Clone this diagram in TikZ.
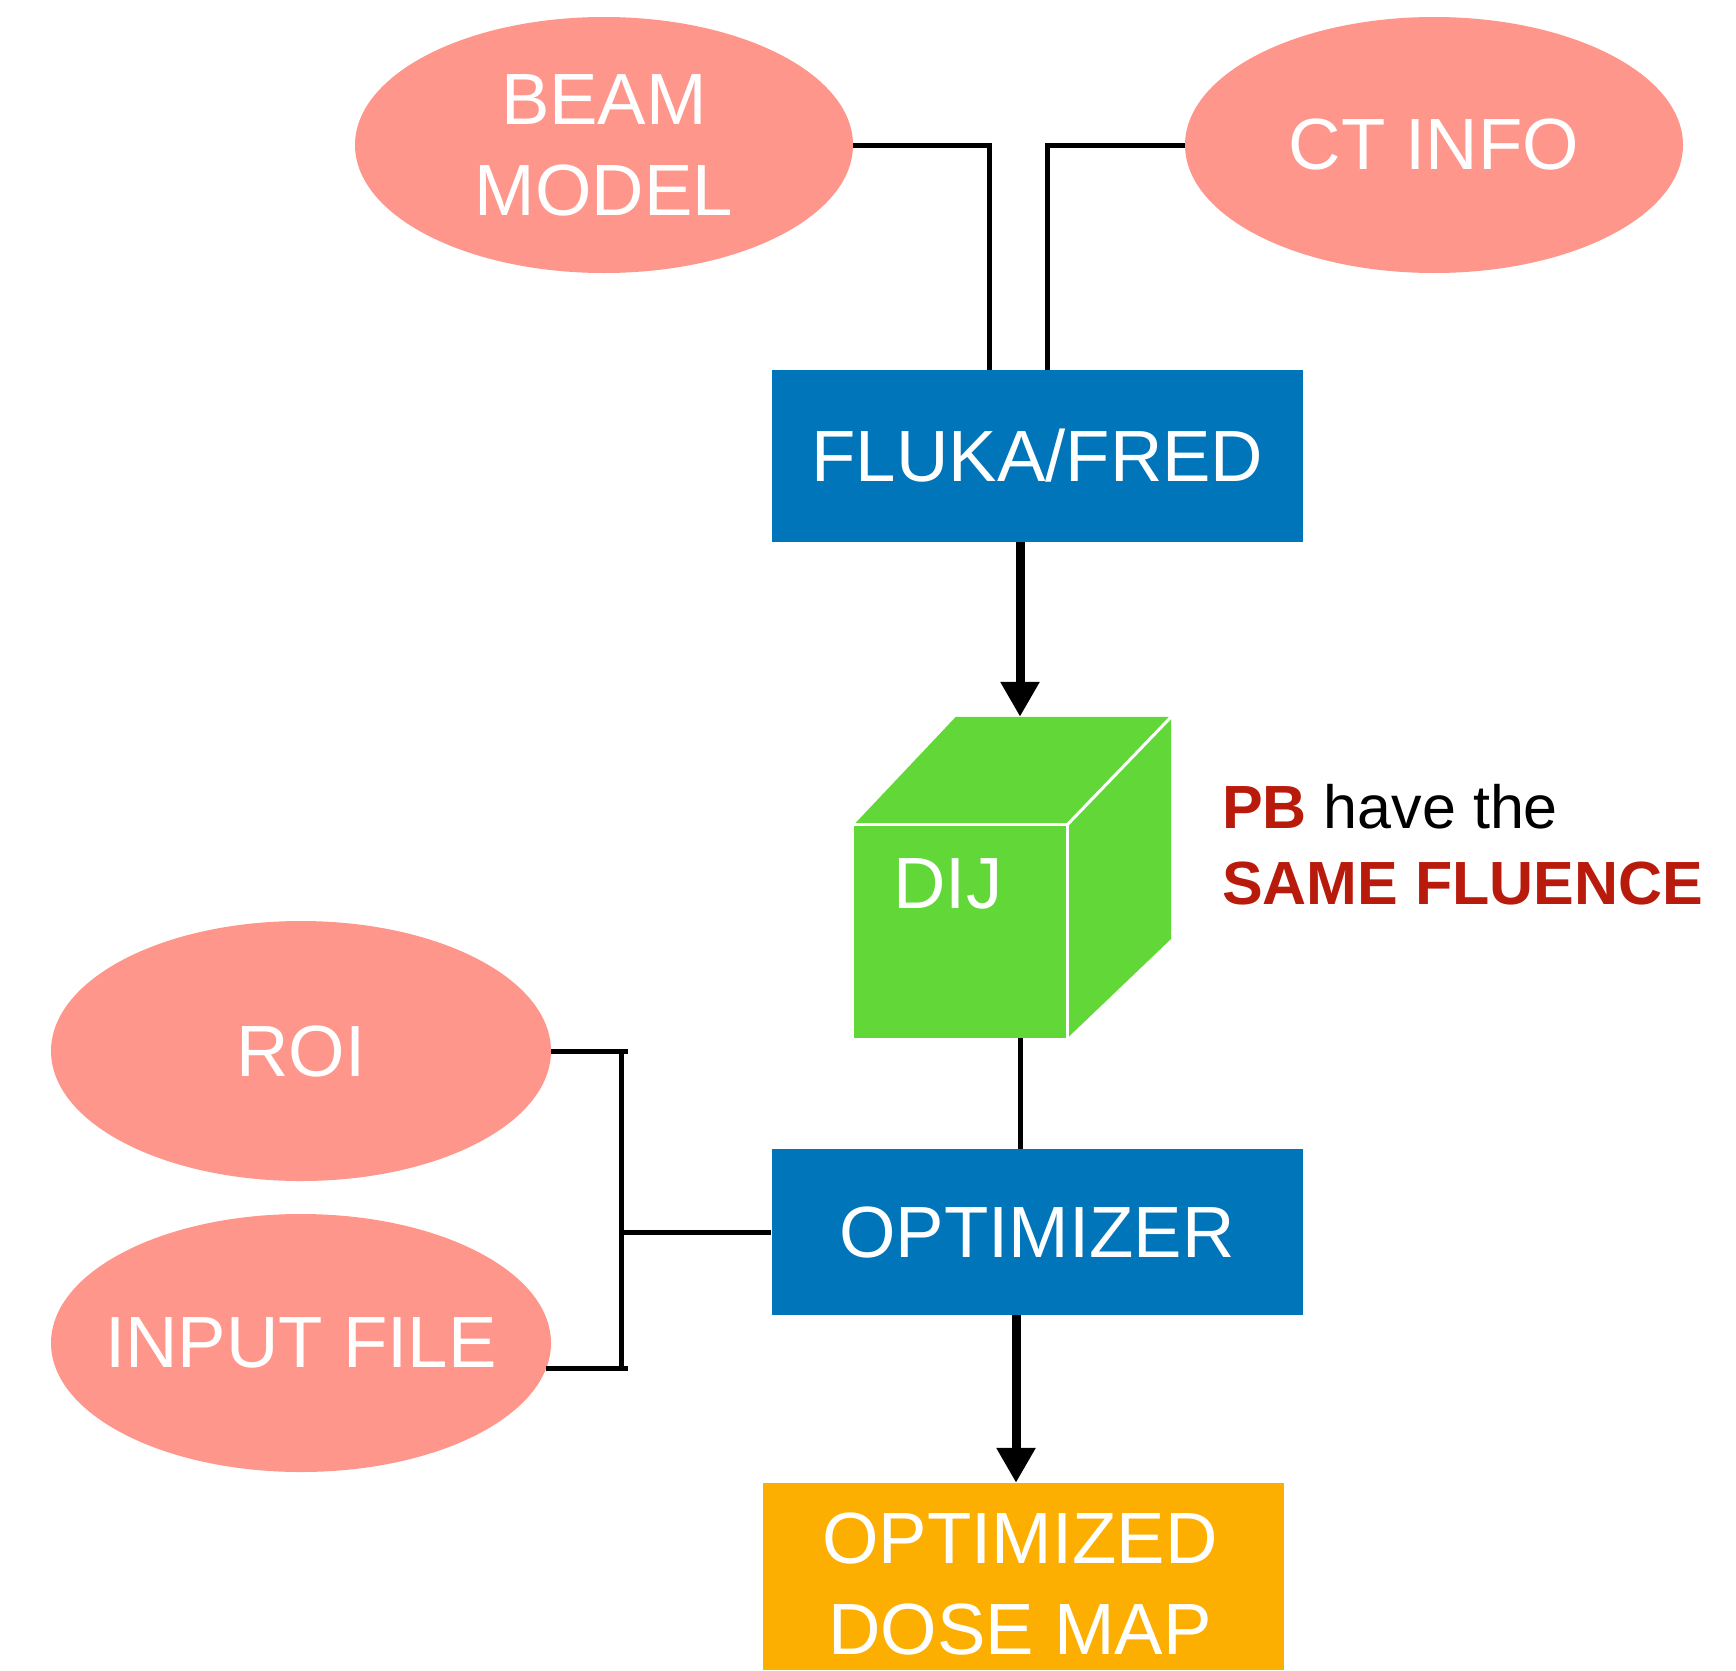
\documentclass[tikz,border=0pt]{standalone}
\usepackage{fontspec}
\setmainfont{Liberation Sans}
\usetikzlibrary{arrows.meta,shapes.geometric}
\definecolor{salmonfill}{HTML}{FE968C}
\definecolor{boxblue}{HTML}{0075B9}
\definecolor{cubegreen}{HTML}{62D838}
\definecolor{doseorange}{HTML}{FCAF00}
\definecolor{notered}{HTML}{B81A0C}
\newcommand\mainlblfont{\fontsize{72.6}{91}\selectfont}
\newcommand\notelblfont{\fontsize{61}{76}\selectfont}
\begin{document}
\begin{tikzpicture}[x=1pt,y=-1pt,
  ell/.style={ellipse, fill=salmonfill, inner sep=0pt, minimum width=498pt, minimum height=256pt, text=white, font=\mainlblfont, align=center},
  bluebox/.style={rectangle, fill=boxblue, inner sep=0pt, minimum width=531pt, minimum height=172pt, text=white, font=\mainlblfont},
  thinline/.style={line width=5pt},
  thickarrow/.style={line width=9pt, -{Triangle[width=37pt,length=35pt]}}]
\useasboundingbox (0,0) rectangle (1736,1670);

% input ellipses
\node[ell] (beam) at (604,145) {\makebox[0pt]{BEAM}\\\makebox[0pt]{MODEL}};
\node[ell] (ct) at (1434,145) {\makebox[0pt]{CT INFO}};
\node[ell, minimum width=500pt, minimum height=260pt] (roi) at (301,1051) {\makebox[0pt]{ROI}};
\node[ell, minimum width=500pt, minimum height=258pt] (inp) at (301,1343) {\makebox[0pt]{INPUT FILE}};

% blue boxes
\node[bluebox] (fluka) at (1037.5,456) {FLUKA/FRED};
\node[bluebox, minimum height=166pt] (opt) at (1037,1232) {OPTIMIZER};

% cube DIJ
\node[rectangle, fill=cubegreen, inner sep=0pt, minimum width=213pt, minimum height=213pt] (dij) at (960.5,931.5) {};
\fill[cubegreen] (dij.north west) -- ++(102,-108) -- ++(215,0) -- (dij.north east) -- cycle;
\fill[cubegreen] (dij.north east) -- ++(104,-108) -- ++(0,222) -- (dij.south east) -- cycle;
\draw[white, line width=3pt] (dij.north west) -- (dij.north east) -- (dij.south east);
\draw[white, line width=3pt] (dij.north east) -- ++(104,-108);
\node[text=white, font=\mainlblfont, inner sep=0pt] (dijtxt) at (948,884) {DIJ};
\coordinate (cubetop) at ([xshift=59.5pt,yshift=108pt]dij.north);

% output box
\node[rectangle, fill=doseorange, inner sep=0pt, minimum width=521pt, minimum height=187pt] (dose) at (1023.5,1576.5) {};
\node[text=white, font=\mainlblfont, align=center, inner sep=0pt] (dosetxt) at (1020,1584) {OPTIMIZED\\DOSE MAP};

% note
\node[anchor=base west, font=\notelblfont, inner sep=0pt] (pb) at (1222,828) {\textbf{\color{notered}PB} have the};
\node[anchor=base west, font=\notelblfont\bfseries, text=notered, inner sep=0pt] (same) at (1222,904) {SAME FLUENCE};

% connectors
\draw[thinline] (beam.east) -| ([xshift=-48.5pt]fluka.north);
\draw[thinline] (ct.west) -| ([xshift=9.5pt]fluka.north);
\draw[thickarrow] (fluka.south -| cubetop) -- (cubetop);
\draw[thinline] (dij.south -| cubetop) -- (opt.north -| cubetop);
\coordinate (dosein) at ([xshift=-7.5pt]dose.north);
\draw[thickarrow] (opt.south -| dosein) -- (dosein);

\coordinate (bk) at (621,1232);
\coordinate (bkr) at (628,1232);
\draw[thinline] (roi.east) -- (roi.east -| bkr);
\draw[thinline] (inp.-6.55) -- (inp.-6.55 -| bkr);
\draw[thinline, line cap=rect] (roi.east -| bk) -- (inp.-6.55 -| bk);
\draw[thinline] (bk) -- (opt.west);
\end{tikzpicture}
\end{document}
